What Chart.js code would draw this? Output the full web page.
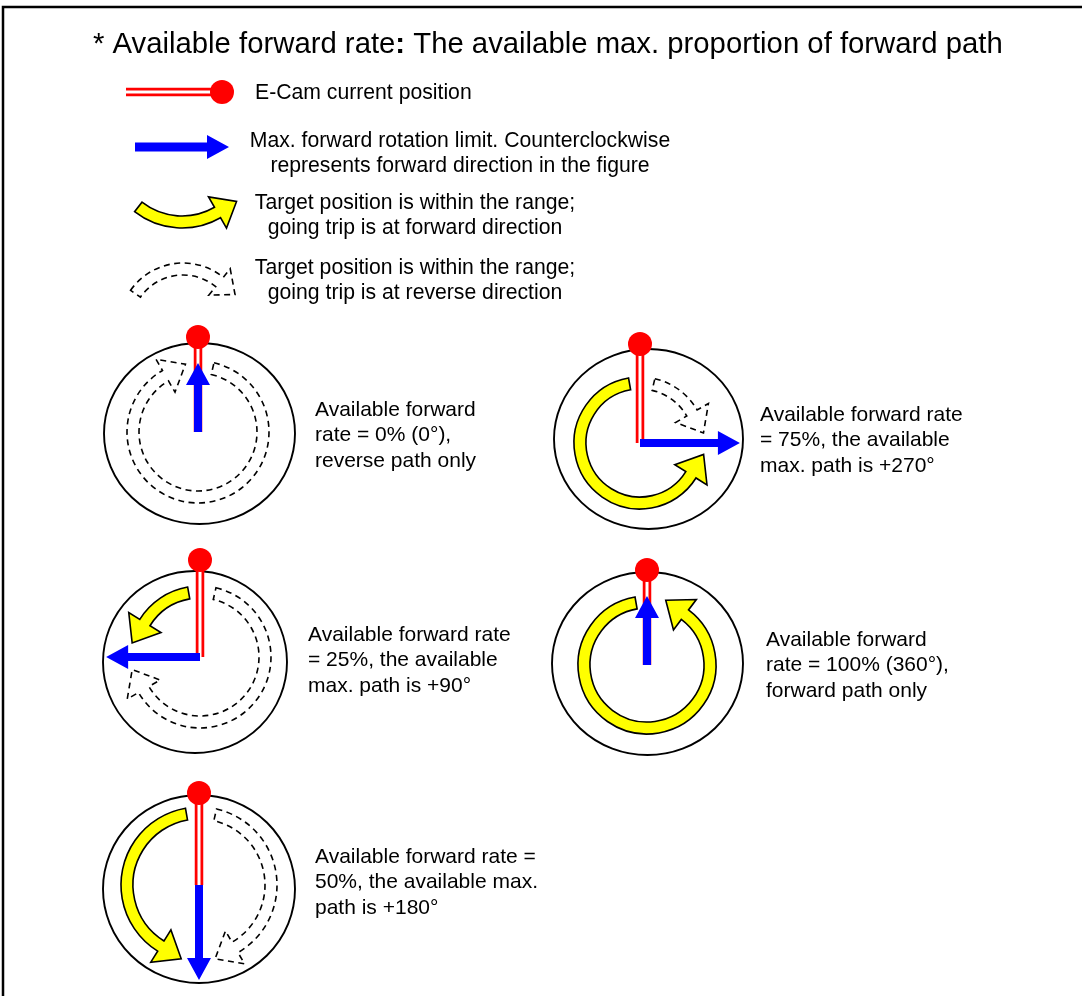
<!DOCTYPE html>
<html>
<head>
<meta charset="utf-8">
<script src="https://cdn.jsdelivr.net/npm/chart.js@4.4.1/dist/chart.umd.min.js"></script>
<style>
  html, body { margin: 0; padding: 0; background: #fff; }
  #wrap { width: 1082px; height: 996px; }
</style>
</head>
<body>
<div id="wrap"><canvas id="camChart" width="1082" height="996"></canvas></div>
<script>
// available forward rate of each dial, in %
const rates = [0, 75, 25, 100, 50];

const captions = [
    ['Available forward', 'rate = 0% (0°),', 'reverse path only'],
    ['Available forward rate', '= 75%, the available', 'max. path is +270°'],
    ['Available forward rate', '= 25%, the available', 'max. path is +90°'],
    ['Available forward', 'rate = 100% (360°),', 'forward path only'],
    ['Available forward rate =', '50%, the available max.', 'path is +180°']
];

const titleParts = ['* Available forward rate', ':', ' The available max. proportion of forward path'];

const legendTexts = [
    ['E-Cam current position'],
    ['Max. forward rotation limit. Counterclockwise', 'represents forward direction in the figure'],
    ['Target position is within the range;', 'going trip is at forward direction'],
    ['Target position is within the range;', 'going trip is at reverse direction']
];

// layout of the dials (pivot, ring, red dot, path radius, caption spot)
const dials = [
    { px: 198, py: 432, cx: 199.5, cy: 433.5, rx: 95.5, ry: 90.5, dotY: 337, band: 65, tx: 315, ty: 410 },
    { px: 640, py: 443, cx: 648.5, cy: 439, rx: 94.5, ry: 90, dotY: 344, band: 60, tx: 760, ty: 415 },
    { px: 200, py: 657, cx: 195, cy: 662, rx: 92, ry: 91, dotY: 560, band: 65, tx: 308, ty: 635 },
    { px: 647, py: 665, cx: 647.5, cy: 663.5, rx: 95.5, ry: 91.5, dotY: 570, band: 63, tx: 766, ty: 640 },
    { px: 199, py: 885, cx: 199, cy: 889, rx: 96, ry: 94, dotY: 793, band: 72, tx: 315, ty: 857 }
];
const legendDot = { x: 222, y: 92 };

const FONT = '"Liberation Sans", Arial, Helvetica, sans-serif';
const RED = '#ff0000', BLUE = '#0000ff', YELLOW = '#ffff00';
const rad = d => d * Math.PI / 180;

// red double line (the cam position marker)
function redLine(ctx, x0, y0, x1, y1) {
    ctx.save();
    ctx.lineCap = 'butt';
    ctx.strokeStyle = RED;
    ctx.lineWidth = 8.5;
    ctx.beginPath(); ctx.moveTo(x0, y0); ctx.lineTo(x1, y1); ctx.stroke();
    ctx.strokeStyle = '#fff';
    ctx.lineWidth = 3;
    ctx.beginPath(); ctx.moveTo(x0, y0); ctx.lineTo(x1, y1); ctx.stroke();
    ctx.restore();
}

// straight blue arrow
function blueArrow(ctx, x0, y0, x1, y1, shaft, headLen, headHalf) {
    const len = Math.hypot(x1 - x0, y1 - y0);
    const ux = (x1 - x0) / len, uy = (y1 - y0) / len;
    const nx = -uy, ny = ux;
    const bx = x1 - ux * headLen, by = y1 - uy * headLen;
    ctx.save();
    ctx.fillStyle = BLUE;
    ctx.beginPath();
    ctx.moveTo(x0 + nx * shaft / 2, y0 + ny * shaft / 2);
    ctx.lineTo(bx + nx * shaft / 2, by + ny * shaft / 2);
    ctx.lineTo(bx + nx * headHalf, by + ny * headHalf);
    ctx.lineTo(x1, y1);
    ctx.lineTo(bx - nx * headHalf, by - ny * headHalf);
    ctx.lineTo(bx - nx * shaft / 2, by - ny * shaft / 2);
    ctx.lineTo(x0 - nx * shaft / 2, y0 - ny * shaft / 2);
    ctx.closePath();
    ctx.fill();
    ctx.restore();
}

// curved band with arrow head; dir -1 = counterclockwise on screen, +1 = clockwise
function bandPath(ctx, cx, cy, r, a0, aBase, dir, half, headHalf, headLen) {
    const s = rad(a0), b = rad(aBase);
    const acw = dir < 0;
    const tx = -Math.sin(b) * dir, ty = Math.cos(b) * dir;
    const mx = cx + Math.cos(b) * r, my = cy + Math.sin(b) * r;
    ctx.beginPath();
    ctx.arc(cx, cy, r + half, s, b, acw);
    ctx.lineTo(cx + Math.cos(b) * (r + headHalf), cy + Math.sin(b) * (r + headHalf));
    ctx.lineTo(mx + tx * headLen, my + ty * headLen);
    ctx.lineTo(cx + Math.cos(b) * (r - headHalf), cy + Math.sin(b) * (r - headHalf));
    ctx.lineTo(cx + Math.cos(b) * (r - half), cy + Math.sin(b) * (r - half));
    ctx.arc(cx, cy, r - half, b, s, !acw);
    ctx.closePath();
}

function yellowArrow(ctx, cx, cy, r, a0, aBase, dir, headHalf, headLen) {
    ctx.save();
    bandPath(ctx, cx, cy, r, a0, aBase, dir, 6, headHalf, headLen);
    ctx.fillStyle = YELLOW;
    ctx.fill();
    ctx.lineWidth = 1.6;
    ctx.lineJoin = 'miter';
    ctx.strokeStyle = '#000';
    ctx.stroke();
    ctx.restore();
}

function dashedArrow(ctx, cx, cy, r, a0, aBase, dir, headHalf, headLen) {
    ctx.save();
    bandPath(ctx, cx, cy, r, a0, aBase, dir, 6, headHalf, headLen);
    ctx.setLineDash([6, 4.5]);
    ctx.lineWidth = 1.6;
    ctx.strokeStyle = '#000';
    ctx.stroke();
    ctx.restore();
}

// distance from pivot to the ring along an angle
function ringReach(d, ang) {
    const ux = Math.cos(ang), uy = Math.sin(ang);
    const ox = (d.px - d.cx) / d.rx, oy = (d.py - d.cy) / d.ry;
    const vx = ux / d.rx, vy = uy / d.ry;
    const A = vx * vx + vy * vy, B = 2 * (ox * vx + oy * vy), C = ox * ox + oy * oy - 1;
    return (-B + Math.sqrt(B * B - 4 * A * C)) / (2 * A);
}

const diagramPlugin = {
    id: 'camDiagram',
    beforeDraw(chart) {
        const ctx = chart.ctx;
        ctx.save();
        ctx.fillStyle = '#fff';
        ctx.fillRect(0, 0, chart.width, chart.height);
        ctx.restore();
    },
    beforeDatasetsDraw(chart) {
        const ctx = chart.ctx;
        const xs = chart.scales.x, ys = chart.scales.y;
        const X = v => xs.getPixelForValue(v);
        const Y = v => ys.getPixelForValue(v);
        const k = (X(1082) - X(0)) / 1082;

        // frame
        ctx.save();
        ctx.strokeStyle = '#000';
        ctx.lineWidth = 2.5;
        ctx.beginPath();
        ctx.moveTo(X(3), Y(996));
        ctx.lineTo(X(3), Y(7));
        ctx.lineTo(X(1082), Y(7));
        ctx.stroke();
        ctx.restore();

        // legend symbols
        redLine(ctx, X(126), Y(92), X(216), Y(92));
        blueArrow(ctx, X(135), Y(147), X(229), Y(147), 9 * k, 22 * k, 12 * k);
        yellowArrow(ctx, X(182), Y(151), 71 * k, 128, 60, -1, 18 * k, 22 * k);
        dashedArrow(ctx, X(183), Y(327), 58 * k, 215, 309, 1, 17 * k, 20 * k);

        // dials
        dials.forEach((d, i) => {
            const rate = rates[i];
            const cx = X(d.px), cy = Y(d.py);
            const r = d.band * k;

            ctx.save();
            ctx.strokeStyle = '#000';
            ctx.lineWidth = 1.9;
            ctx.beginPath();
            ctx.ellipse(X(d.cx), Y(d.cy), d.rx * k, d.ry * k, 0, 0, Math.PI * 2);
            ctx.stroke();
            ctx.restore();

            // forward (counterclockwise) path
            if (rate > 0) {
                const target = -90 - rate * 3.6;
                const base = rate === 100 ? target + 37 : target + 32;
                yellowArrow(ctx, cx, cy, r, -100, base, -1, 19 * k, 24 * k);
            }
            // reverse (clockwise) path
            if (rate < 100) {
                const target = -90 + (100 - rate) * 3.6;
                dashedArrow(ctx, cx, cy, r, -77, target - 30, 1, 19 * k, 23 * k);
            }

            redLine(ctx, cx, Y(d.dotY), cx, cy);

            const ang = rad(-90 - rate * 3.6);
            const reach = (rate % 100 === 0) ? 69 : ringReach(d, ang) - 3;
            blueArrow(ctx, cx, cy, cx + Math.cos(ang) * reach * k, cy + Math.sin(ang) * reach * k,
                8 * k, 22 * k, 12 * k);
        });
    },
    afterDraw(chart) {
        const ctx = chart.ctx;
        const xs = chart.scales.x, ys = chart.scales.y;
        const X = v => xs.getPixelForValue(v);
        const Y = v => ys.getPixelForValue(v);
        ctx.save();
        ctx.fillStyle = '#000';
        ctx.textBaseline = 'middle';

        // title, colon in bold
        let tx = X(93);
        const fonts = ['29.3px ' + FONT, 'bold 29.3px ' + FONT, '29.3px ' + FONT];
        titleParts.forEach((t, i) => {
            ctx.font = fonts[i];
            ctx.textAlign = 'left';
            ctx.fillText(t, tx, Y(45));
            tx += ctx.measureText(t).width;
        });

        // legend texts
        ctx.font = '21.2px ' + FONT;
        ctx.textAlign = 'left';
        ctx.fillText(legendTexts[0][0], X(255), Y(93));
        ctx.textAlign = 'center';
        const legendRows = [[460, 141], [415, 203], [415, 268]];
        legendRows.forEach((p, i) => {
            legendTexts[i + 1].forEach((line, j) => {
                ctx.fillText(line, X(p[0]), Y(p[1] + j * 25));
            });
        });

        // captions
        ctx.font = '21px ' + FONT;
        ctx.textAlign = 'left';
        dials.forEach((d, i) => {
            captions[i].forEach((line, j) => {
                ctx.fillText(line, X(d.tx), Y(d.ty + j * 25.5));
            });
        });
        ctx.restore();
    }
};

const dotPoints = dials.map(d => ({ x: d.px, y: d.dotY })).concat([legendDot]);

new Chart(document.getElementById('camChart').getContext('2d'), {
    type: 'scatter',
    data: {
        datasets: [{
            label: 'E-Cam current position',
            data: dotPoints,
            pointRadius: 12,
            pointHoverRadius: 12,
            backgroundColor: RED,
            borderWidth: 0
        }]
    },
    options: {
        responsive: false,
        animation: false,
        events: [],
        layout: { padding: 0, autoPadding: false },
        scales: {
            x: { type: 'linear', min: 0, max: 1082, display: false },
            y: { type: 'linear', min: 0, max: 996, reverse: true, display: false }
        },
        plugins: {
            legend: { display: false },
            tooltip: { enabled: false }
        }
    },
    plugins: [diagramPlugin]
});
</script>
</body>
</html>
